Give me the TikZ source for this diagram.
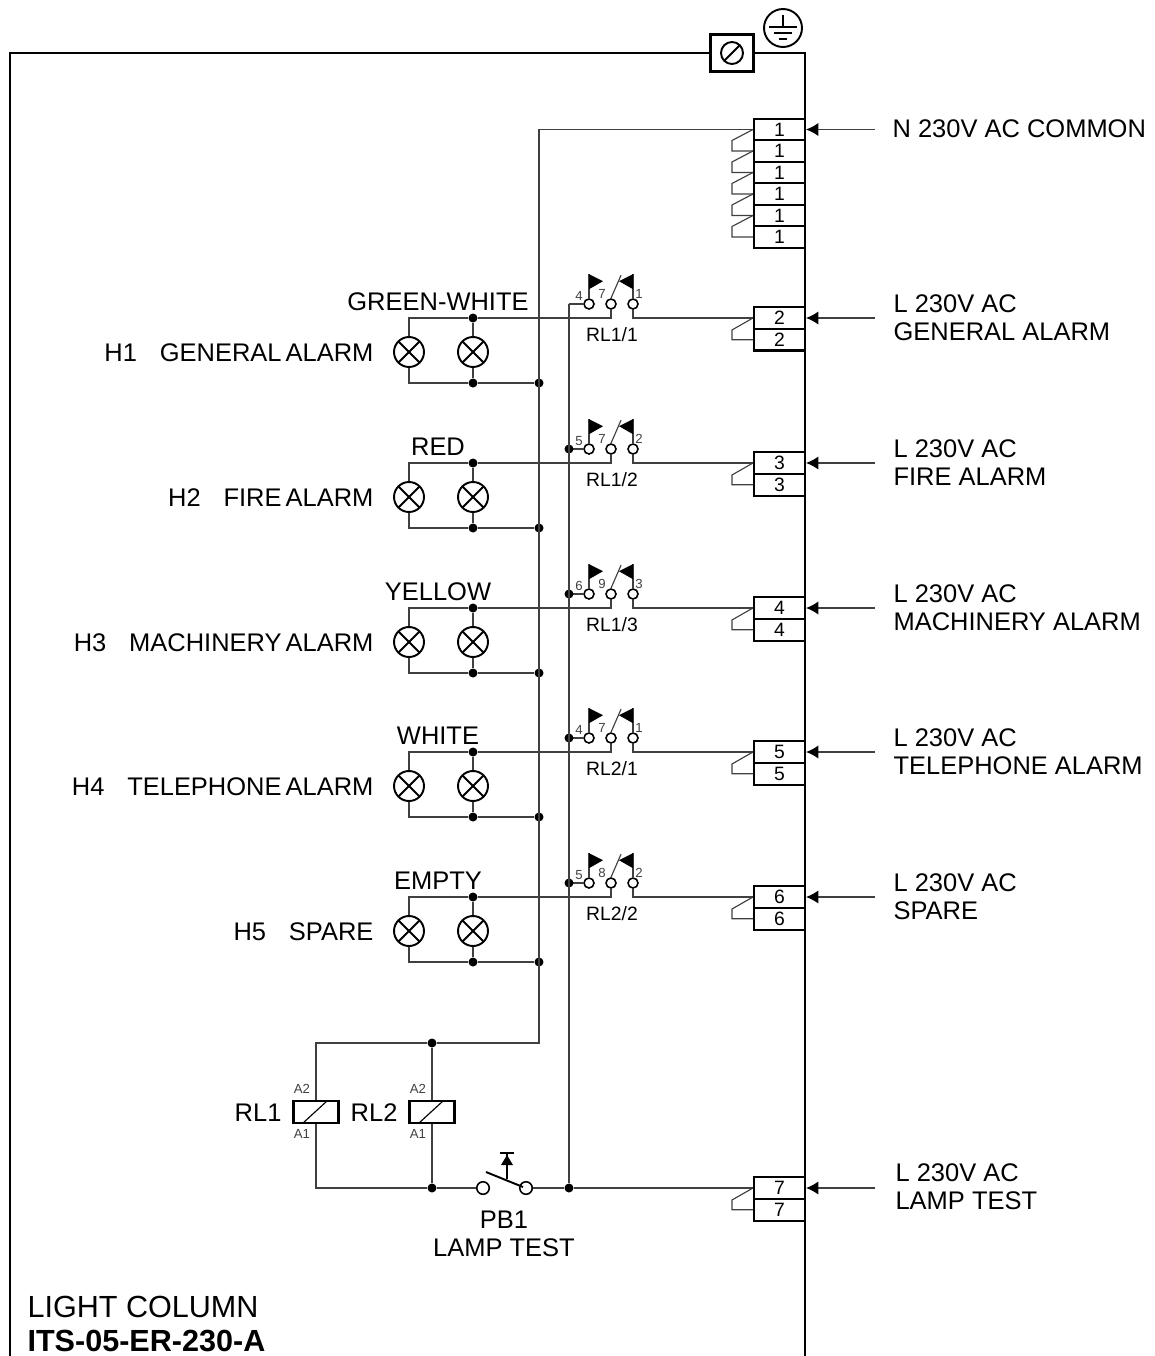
\documentclass[tikz,border=0pt]{standalone}
\usepackage{fontspec}
\setmainfont{Liberation Sans}
\usetikzlibrary{arrows.meta}
\definecolor{wiregray}{gray}{0.25}
\tikzset{
	bigtext/.style={inner sep=0pt, font=\fontsize{14.5}{15.9}\selectfont},
	midtext/.style={inner sep=0pt, font=\fontsize{11}{12}\selectfont},
	tinytext/.style={inner sep=0pt, text=wiregray, font=\fontsize{7.5}{8}\selectfont},
	titletext/.style={inner sep=0pt, anchor=west, font=\fontsize{17.4}{18}\selectfont},
	lamp/.style={circle, draw=black, line width=1.1pt, inner sep=0pt, minimum size=0.6cm, path picture={
		\draw (path picture bounding box.north west)--(path picture bounding box.south east);
		\draw (path picture bounding box.north east)--(path picture bounding box.south west);}},
	jdot/.style={circle, fill=black, inner sep=0pt, minimum size=0.18cm},
	contact/.style={circle, draw=black, line width=0.9pt, fill=white, inner sep=0pt, minimum size=0.2cm},
	terminal/.style={rectangle, draw=black, line width=1.2pt, inner sep=0pt, minimum width=1.02cm, minimum height=0.434cm, midtext},
	relaycoil/.style={rectangle, draw=black, line width=1.2pt, inner sep=0pt, minimum width=0.9cm, minimum height=0.44cm},
	frameline/.style={draw=black, line width=1.5pt},
	feed/.style={-{Latex[black,length=7pt,width=7.5pt]}}
}
\begin{document}
\begin{tikzpicture}[x=0.02cm, y=-0.02cm, line width=0.65pt, draw=wiregray]
	\useasboundingbox (0,0) rectangle (1154,1356);
	
	%housing
	\node[rectangle, draw=black, line width=1.4pt, minimum width=0.86cm, minimum height=0.74cm, inner sep=0pt] (gnd) at (732,53) {};
	\node[circle, draw=black, line width=1.1pt, minimum size=0.44cm, inner sep=0pt, path picture={
		\draw (path picture bounding box.south west)--(path picture bounding box.north east);}] (gndsign) at (732,53) {};
	\coordinate (frameleft) at (10,1356);
	\coordinate (frameright) at (805,1356);
	\draw[frameline] (gnd.west) -| (frameleft);
	\draw[frameline] (gnd.east) -| (frameright);
	
	%earth
	\node[circle, draw=black, line width=1.1pt, minimum size=0.76cm, inner sep=0pt] (earth) at (783,28) {};
	\draw[black, line width=1pt] (783,15)--(783,27);
	\draw[black, line width=1pt] (769,27)--(797,27);
	\draw[black, line width=1pt] (774,33)--(792,33);
	\draw[black, line width=1pt] (779,39)--(787,39);
	
	%neutral terminals
	\foreach \k/\y in {1/129.5,2/151,3/172.5,4/194,5/215.5,6/237}
		\node[terminal] (tn\k) at (779.5,\y) {1};
	\foreach \k/\j in {1/2,2/3,3/4,4/5,5/6}
		\draw (tn\k.west)--++(-21,11) |- (tn\j.west);
	\node[bigtext, anchor=west] (innlabel) at (892,129) {N 230V AC COMMON};
	\coordinate (inn) at (875,129.5);
	\draw[feed] (inn)--(tn1.east);
	
	%alarm rows
	\foreach \n/\y/\pa/\pb/\pc/\rl/\hname/\col/\inname in {
		1/318/4/7/1/{RL1/1}/{GENERAL ALARM}/{GREEN-WHITE}/{GENERAL ALARM},
		2/463/5/7/2/{RL1/2}/{FIRE ALARM}/{RED}/{FIRE ALARM},
		3/608/6/9/3/{RL1/3}/{MACHINERY ALARM}/{YELLOW}/{MACHINERY ALARM},
		4/752/4/7/1/{RL2/1}/{TELEPHONE ALARM}/{WHITE}/{TELEPHONE ALARM},
		5/897/5/8/2/{RL2/2}/{SPARE}/{EMPTY}/{SPARE}}
	{
		%lamps
		\node[lamp] (lampa\n) at (409,\y+34) {};
		\node[lamp] (lampb\n) at (473,\y+34) {};
		\node[jdot] (top\n) at (473,\y) {};
		\node[jdot] (bot\n) at (473,\y+65) {};
		\node[jdot] (nt\n) at (539,\y+65) {};
		\draw (lampa\n.north) |- (top\n);
		\draw (top\n)--(lampb\n.north);
		\draw (lampa\n.south) |- (bot\n);
		\draw (lampb\n.south)--(bot\n);
		\draw (bot\n)--(nt\n);
		\node[bigtext, anchor=east] (lamptext\n) at (374,\y+35) {H\n\hspace{13pt}{\spaceskip=2.3pt\hname}};
		\node[bigtext] (coltext\n) at (438,\y-16) {\col};
		
		%contacts
		\node[contact] (pina\n) at (589,\y-14) {};
		\node[contact] (pinb\n) at (611,\y-14) {};
		\node[contact] (pinc\n) at (633,\y-14) {};
		\draw (pina\n.north)--++(0,-24);
		\fill (pina\n.north)++(0,-24)--++(14,7)--++(-14,8)--cycle;
		\draw (pinb\n.north)--++(10,-23);
		\draw (pinc\n.north)--++(0,-24);
		\fill (pinc\n.north)++(0,-24)--++(-14,7)--++(14,8)--cycle;
		\node[tinytext] (pta\n) at (579,\y-22) {\pa};
		\node[tinytext] (ptb\n) at (602,\y-24) {\pb};
		\node[tinytext] (ptc\n) at (639,\y-24) {\pc};
		\node[midtext] (rltext\n) at (612,\y+17) {\rl};
		\coordinate (lt\n) at (569,\y-14);
		\draw (pina\n.west)--(lt\n);
		\draw (top\n) -| (pinb\n.south);
		
		%terminals
		\node[terminal] (ta\n) at (779.5,\y) {\the\numexpr\n+1\relax};
		\node[terminal] (tb\n) at (779.5,\y+21.7) {\the\numexpr\n+1\relax};
		\draw (pinc\n.south) |- (ta\n.west);
		\draw (ta\n.west)--++(-21,12) |- (tb\n.west);
		\coordinate (in\n) at (875,\y);
		\draw[feed] (in\n)--(ta\n.east);
		\node[bigtext, anchor=west, align=left] (intext\n) at (893,\y) {L 230V AC\\\inname};
	}
	\foreach \n in {2,...,5}
		\node[jdot] (ltdot\n) at (lt\n) {};
	
	%relays
	\node[relaycoil] (coila) at (316,1112) {};
	\node[relaycoil] (coilb) at (432,1112) {};
	\draw[black] (coila)++(-13,11)--++(24,-22);
	\draw[black] (coilb)++(-13,11)--++(24,-22);
	\node[bigtext, anchor=east] (coilatext) at (282,1113) {RL1};
	\node[bigtext, anchor=east] (coilbtext) at (398,1113) {RL2};
	\node[tinytext] (a2a) at (302,1089) {A2};
	\node[tinytext] (a1a) at (302,1134) {A1};
	\node[tinytext] (a2b) at (418,1089) {A2};
	\node[tinytext] (a1b) at (418,1134) {A1};
	
	%neutral rail
	\coordinate (railend) at (539,1043);
	\node[jdot] (coiltop) at (432,1043) {};
	\draw (tn1.west) -| (railend)--(coiltop) -| (coila.north);
	\draw (coiltop)--(coilb.north);
	
	%lamp test
	\node[jdot] (coilbot) at (432,1188) {};
	\node[jdot] (testdot) at (569,1188) {};
	\node[contact, minimum size=0.25cm] (pba) at (483,1188) {};
	\node[contact, minimum size=0.25cm] (pbb) at (526,1188) {};
	\draw[black, line width=1.1pt] (486,1172)--(523,1187);
	\draw[black, line width=1.1pt] (507,1179)--(507,1153);
	\draw[black, line width=1.1pt] (500,1153)--(514,1153);
	\fill (507,1155)--(513,1165)--(501,1165)--cycle;
	\draw (coila.south) |- (coilbot)--(pba);
	\draw (coilb.south)--(coilbot);
	\draw (pbb)--(testdot);
	\draw (lt1)--(testdot);
	\node[terminal] (ta7) at (779.5,1188) {7};
	\node[terminal] (tb7) at (779.5,1209.7) {7};
	\draw (testdot)--(ta7.west);
	\draw (ta7.west)--++(-21,12) |- (tb7.west);
	\coordinate (in7) at (875,1188);
	\draw[feed] (in7)--(ta7.east);
	\node[bigtext, anchor=west, align=left] (intext7) at (895,1187) {L 230V AC\\LAMP TEST};
	\node[bigtext, align=center] (pbtext) at (504,1234) {PB1\\LAMP TEST};
	
	%title
	\node[titletext] (titlea) at (27,1307) {LIGHT COLUMN};
	\node[titletext] (titleb) at (27,1341) {\bfseries ITS-05-ER-230-A};
\end{tikzpicture}
\end{document}
